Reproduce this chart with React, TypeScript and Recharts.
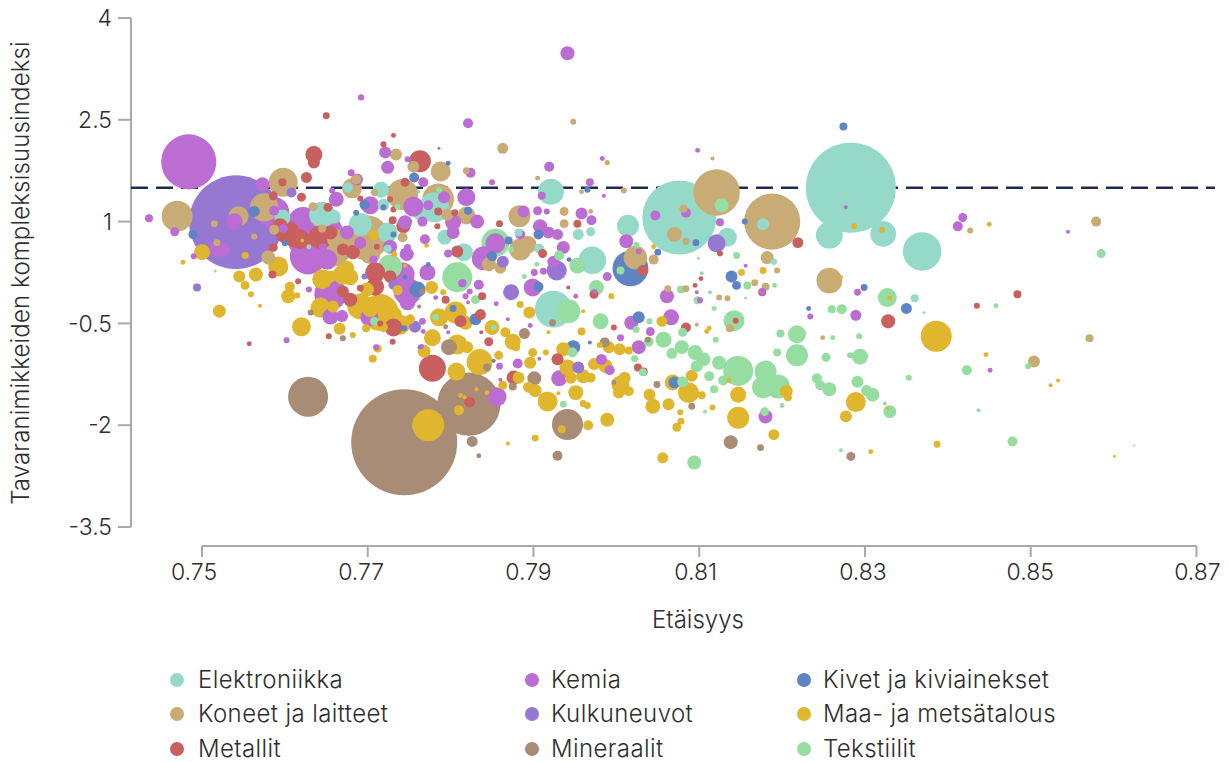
import * as React from "react";
import { ScatterChart, Scatter, Cell, XAxis, YAxis, ZAxis, ReferenceLine } from "recharts";

// each point: [distance, complexity index, trade value]
type Pt = [number, number, number];

const elektroniikka: Pt[] = [
  [0.8283,1.50,2025],[0.8076,1.06,1370],[0.8369,0.56,370],[0.8257,0.80,180],[0.8322,0.82,165],[0.8134,0.77,90],[0.7921,1.44,170],[0.8014,0.94,120],
  [0.7971,0.43,190],[0.7924,-0.29,340],[0.7954,0.81,30],[0.7969,0.85,20],[0.7780,1.21,225],[0.7793,0.77,55],[0.7816,0.55,80],[0.7907,0.60,25],[0.7882,0.84,16],
  [0.7676,1.50,25],[0.7716,1.47,64],[0.7719,1.25,36],[0.7645,1.10,170],[0.7659,1.07,49],[0.7597,1.06,64],[0.7691,0.96,130],[0.7766,1.15,100],[0.7724,0.84,100],[0.7724,0.60,16],
  [0.8190,0.41,10],[0.8177,0.96,36],[0.8360,-0.13,16],
];
const koneet: Pt[] = [
  [0.8188,1.00,790],[0.8121,1.43,540],[0.7470,1.08,240],[0.7598,1.58,210],[0.7575,1.21,200],[0.8257,0.13,165],[0.7742,1.40,240],[0.7681,1.49,100],
  [0.7755,1.81,36],[0.7734,1.99,36],[0.7699,0.77,480],[0.7697,0.92,140],[0.7695,0.63,170],[0.7661,0.55,200],[0.7663,0.74,100],[0.7580,0.47,50],[0.7544,1.08,100],
  [0.7587,0.88,25],[0.7515,0.97,12],[0.7518,0.69,12],[0.7563,0.78,9],[0.7634,1.22,20],[0.7645,0.90,16],[0.7788,1.74,100],[0.7785,1.33,250],[0.7819,1.09,80],[0.7796,1.10,36],
  [0.7863,2.08,30],[0.7948,2.47,9],[0.7819,1.75,12],[0.7883,1.08,120],[0.7884,0.59,120],[0.7893,0.66,80],[0.7846,0.37,50],[0.7860,0.32,36],[0.7937,1.15,20],[0.7937,0.97,20],
  [0.7905,1.64,6],[0.7958,1.44,6],[0.7989,1.87,7],[0.8009,1.46,9],[0.8116,1.93,4],[0.7969,1.15,6],[0.8070,0.81,55],[0.8084,0.71,12],[0.8081,1.19,16],[0.8023,0.47,140],[0.8045,0.44,25],
  [0.8062,0.01,12],[0.8084,0.01,12],[0.8182,0.47,42],[0.8194,0.28,9],[0.8167,0.10,12],[0.8180,0.04,16],[0.8124,-0.12,9],[0.8134,-0.13,9],[0.8427,0.87,9],
  [0.8249,-0.71,6],[0.8137,-0.57,16],[0.8097,-0.52,4],[0.8579,1.00,25],[0.8504,-1.06,36],[0.8571,-0.72,16],[0.7703,0.52,100],[0.7742,0.77,25],[0.7686,1.62,25],[0.7708,1.43,12],
];
const metallit: Pt[] = [
  [0.7763,1.89,120],[0.7635,1.99,72],[0.7635,1.87,36],[0.7626,1.65,30],[0.7620,1.36,20],[0.7650,2.56,12],[0.7731,2.27,6],[0.7719,2.14,9],[0.7597,1.58,16],[0.7586,1.38,20],[0.7652,1.21,20],
  [0.7745,1.58,20],[0.7727,1.33,9],[0.7731,1.18,9],[0.7730,1.02,16],[0.7743,0.93,50],[0.7691,1.34,9],[0.7603,0.84,140],[0.7594,0.93,64],[0.7610,0.74,64],[0.7618,0.74,100],[0.7643,0.77,140],[0.7631,0.74,30],[0.7655,0.84,50],
  [0.7670,0.59,36],[0.7682,0.55,50],[0.7586,0.62,20],[0.7585,0.22,16],[0.7709,0.27,80],[0.7727,0.19,25],[0.7711,0.63,9],[0.7709,0.25,100],[0.7709,0.04,81],[0.7727,0.19,40],[0.7679,-0.15,49],[0.7670,-0.03,36],
  [0.7691,0.02,12],[0.7731,-0.56,80],[0.7616,0.12,9],[0.7557,-0.80,6],[0.7653,-0.69,9],[0.7730,-0.77,9],[0.7715,-0.50,9],[0.7794,-0.15,16],[0.7812,-0.47,36],[0.7778,-1.16,182],[0.7823,-1.66,30],
  [0.7785,1.15,16],[0.7805,1.13,12],[0.7784,0.93,9],[0.7859,0.97,12],[0.7808,0.56,36],[0.7953,0.97,16],[0.7911,0.53,20],[0.8032,0.28,30],[0.7973,-0.07,20],[0.7942,0.03,4],[0.8095,0.06,6],[0.8102,0.16,6],[0.7838,-0.10,16],
  [0.7837,-0.63,4],[0.7836,-0.37,30],[0.7846,-0.77,20],[0.7929,-1.03,36],[0.7876,-1.30,50],[0.7997,-0.56,9],[0.8026,-1.15,16],[0.8033,-1.21,16],[0.8084,-0.56,25],
  [0.8219,0.69,30],[0.8125,0.53,9],[0.8176,-0.04,16],[0.8328,-0.47,50],[0.8435,-0.24,9],[0.8484,-0.07,16],[0.8144,-0.46,9],
];
const kemia: Pt[] = [
  [0.7484,1.88,760],[0.7941,3.48,50],[0.7692,2.83,10],[0.7821,2.45,25],[0.7436,1.05,16],[0.7467,0.85,20],[0.7573,1.55,50],[0.7721,2.02,36],[0.7724,1.80,42],[0.7680,1.72,12],[0.7687,1.62,36],
  [0.7748,1.92,9],[0.7767,1.58,25],[0.7657,1.46,9],[0.7662,1.33,56],[0.7703,1.24,80],[0.7773,1.24,25],[0.7539,1.00,70],[0.7518,0.60,64],[0.7525,0.59,49],[0.7586,1.13,260],[0.7637,0.78,800],[0.7622,0.99,230],
  [0.7587,1.16,25],[0.7598,0.90,20],[0.7490,0.49,9],[0.7675,0.84,49],[0.7691,0.69,36],[0.7747,0.52,49],[0.7727,0.63,50],[0.7769,0.74,25],[0.7745,0.99,49],[0.7766,1.00,25],[0.7755,1.22,100],
  [0.7707,0.44,16],[0.7646,0.62,16],[0.7748,0.62,12],[0.7651,0.44,100],[0.7629,0.00,9],[0.7602,-0.75,9],[0.7655,-0.07,260],[0.7628,0.49,330],[0.7655,-0.40,64],[0.7669,-0.39,36],[0.7702,-0.41,81],
  [0.7748,-0.03,190],[0.7748,-0.19,64],[0.7742,0.22,144],[0.7772,0.25,64],[0.7766,-0.47,12],[0.7767,-0.62,6],[0.7710,-0.85,9],[0.7797,-0.63,4],[0.7782,-0.12,6],[0.7818,-0.10,9],[0.7823,-0.03,9],[0.7821,-0.19,4],[0.7834,0.07,25],[0.7815,0.10,12],
  [0.7819,1.36,80],[0.7824,1.72,25],[0.7919,1.81,25],[0.7850,1.58,9],[0.7968,1.58,16],[0.7983,1.93,6],[0.7985,1.38,4],[0.8098,2.05,6],[0.7910,1.38,16],[0.8047,1.09,25],[0.8084,1.13,25],
  [0.7905,1.16,20],[0.7916,1.15,9],[0.7888,1.15,36],[0.7958,1.12,36],[0.7970,1.02,25],[0.7908,0.93,50],[0.7918,0.84,36],[0.7929,0.81,30],[0.7884,0.81,25],[0.7936,0.62,42],[0.8012,0.71,49],[0.8027,0.56,9],
  [0.7832,1.00,49],[0.7803,0.99,64],[0.7803,0.84,42],[0.7854,0.68,100],[0.7840,0.46,144],[0.7797,0.53,16],[0.7792,1.36,36],[0.7924,0.41,36],[0.7901,0.25,12],[0.7912,0.27,12],[0.7989,0.19,20],[0.7814,0.09,16],
  [0.7899,0.03,81],[0.7974,-0.03,6],[0.7951,-0.10,6],[0.8061,-0.10,49],[0.8097,-0.04,4],[0.8101,-0.16,9],[0.7982,-1.03,30],[0.7992,-1.19,25],[0.7931,-1.31,64],[0.8027,-0.85,49],[0.8041,-0.62,20],[0.8066,-0.41,64],
  [0.8018,-0.49,49],[0.7881,-1.09,25],[0.7856,-1.58,90],[0.7859,-1.13,12],[0.7907,-1.02,4],[0.7896,-0.53,6],[0.7869,-0.44,4],[0.7855,-0.21,6],[0.7765,-0.84,6],[0.7860,-1.33,4],[0.8005,-0.71,12],
  [0.8125,0.99,16],[0.8156,0.35,4],[0.8176,-0.03,12],[0.8418,1.06,20],[0.8412,0.93,25],[0.8291,-0.04,12],[0.8277,1.21,4],[0.8234,-0.40,9],[0.8289,-0.38,30],[0.8180,-1.87,49],[0.8451,-1.19,6],[0.8545,0.85,4],
];
const kulkuneuvot: Pt[] = [
  [0.7541,0.99,2200],[0.8121,0.68,80],[0.7928,0.28,100],[0.7608,1.43,25],[0.7863,0.41,36],[0.7873,-0.04,64],[0.7494,0.03,16],[0.7757,-0.55,36],[0.7763,-0.85,6],[0.7696,0.19,9],[0.7731,0.07,25],[0.7954,-1.15,36],
];
const mineraalit: Pt[] = [
  [0.7744,-2.25,2810],[0.7822,-1.69,1000],[0.7628,-1.58,400],[0.7941,-1.99,240],[0.7826,-2.24,30],[0.7834,-2.45,6],[0.7929,-2.45,25],[0.7901,-1.31,49],[0.7889,-0.65,30],[0.7798,-0.85,64],[0.7844,-1.15,16],[0.7875,-1.43,16],
  [0.7986,-0.78,25],[0.8049,-1.40,12],[0.7997,-1.37,6],[0.8091,-1.72,12],[0.8038,-0.74,9],[0.7670,-0.72,9],[0.7631,-0.34,9],[0.7794,-0.55,6],[0.7762,-0.25,4],[0.7766,-0.03,9],[0.8138,-2.25,49],[0.8174,-2.33,12],[0.8283,-2.46,20],[0.7923,-0.49,12],
];
const kivet: Pt[] = [
  [0.8017,0.31,320],[0.8274,2.40,16],[0.7563,1.15,30],[0.7489,0.81,20],[0.7600,0.68,9],[0.7696,1.25,25],[0.7686,1.13,9],[0.7756,1.65,25],[0.7719,1.21,9],[0.7731,0.81,9],[0.7745,0.18,6],[0.7760,0.00,64],[0.7773,0.37,6],
  [0.7803,-0.28,12],[0.7830,-0.44,36],[0.7744,-0.57,9],[0.7821,1.16,16],[0.7797,1.86,6],[0.7786,2.08,2],[0.7850,0.49,25],[0.7870,0.72,16],[0.7906,0.81,25],[0.7943,0.44,6],[0.7906,0.04,25],[0.7965,1.47,9],[0.8096,0.69,12],[0.8050,0.55,12],
  [0.8027,-0.41,36],[0.7968,-0.78,4],[0.7948,-0.85,49],[0.8070,-1.37,36],[0.7852,-1.05,4],[0.8139,0.19,36],[0.8145,0.06,20],[0.8155,1.00,9],[0.8299,0.03,12],[0.8350,-0.28,30],[0.8232,-0.28,6],
];
const maa: Pt[] = [
  [0.8386,-0.69,240],[0.7773,-2.00,256],[0.7620,-0.55,90],[0.7521,-0.32,42],[0.7666,-0.58,36],[0.7682,-0.67,9],[0.7706,-1.02,16],[0.7570,-0.24,4],[0.7559,-0.07,9],[0.7545,0.19,36],[0.7552,0.06,20],[0.7565,0.22,49],[0.7552,0.50,12],[0.7477,0.40,6],[0.7500,0.55,64],
  [0.7594,0.32,64],[0.7604,-0.10,49],[0.7606,0.04,25],[0.7615,-0.09,9],[0.7592,0.34,100],[0.7621,0.72,4],[0.7707,0.80,25],[0.7675,0.32,49],[0.7675,0.19,49],[0.7643,0.19,25],[0.7655,0.19,36],[0.7732,0.52,9],[0.7771,0.65,6],[0.7745,0.35,4],
  [0.7645,0.15,100],[0.7670,0.22,100],[0.7679,0.18,64],[0.7643,-0.22,49],[0.7643,-0.27,100],[0.7658,-0.25,36],[0.7691,-0.25,169],[0.7715,-0.34,340],[0.7727,-0.40,144],[0.7703,-0.29,64],[0.7699,0.00,49],[0.7739,-0.52,100],[0.7751,-0.44,25],[0.7736,-0.01,25],[0.7777,0.03,42],[0.7786,-0.41,81],[0.7806,-0.34,121],[0.7818,-0.49,49],
  [0.7778,-0.71,72],[0.7768,-0.91,42],[0.7808,-0.81,100],[0.7820,-0.85,36],[0.7791,-0.04,9],[0.7698,-0.57,16],[0.7719,-0.56,20],[0.7807,-1.21,81],[0.7835,-1.07,169],[0.7712,-0.87,16],[0.7810,-1.78,25],[0.7812,-1.56,6],[0.7817,-1.59,4],[0.7831,-1.47,4],
  [0.7858,-0.97,20],[0.7863,-1.41,20],[0.7844,-1.52,6],[0.7850,-0.56,56],[0.7866,-0.63,25],[0.7875,-0.77,64],[0.7879,-0.85,16],[0.7884,-0.22,12],[0.7895,-0.34,36],[0.7896,-1.08,36],[0.7899,-0.93,20],[0.7915,-0.93,9],
  [0.7936,-0.88,49],[0.7941,-1.15,64],[0.7945,-1.30,36],[0.7951,-1.52,56],[0.7960,-1.28,49],[0.7969,-1.30,25],[0.7917,-1.65,100],[0.7894,-1.44,30],[0.7902,-1.49,42],[0.7882,-1.30,36],[0.7930,-1.53,4],[0.7934,-2.06,16],[0.7902,-2.19,12],[0.7869,-2.27,4],
  [0.7966,-2.00,25],[0.7989,-1.92,49],[0.8056,-2.48,30],[0.7960,-1.68,12],[0.7965,-1.71,12],[0.7973,-1.10,36],[0.7987,-1.13,49],[0.8005,-1.40,81],[0.8010,-1.30,36],[0.8003,-1.52,36],[0.8015,-1.50,25],[0.7991,-0.85,36],[0.8004,-0.88,36],[0.8015,-0.90,16],
  [0.7980,-0.82,9],[0.7960,-0.32,4],[0.7958,-0.62,16],[0.7918,-0.63,4],[0.7994,-0.10,9],[0.8040,-1.55,36],[0.8044,-1.72,56],[0.8063,-1.69,36],[0.8077,-1.81,9],[0.8078,-1.94,12],[0.8073,-2.03,20],[0.8103,-1.56,16],[0.8087,-1.52,110],[0.8091,-1.27,36],[0.8068,-1.37,64],
  [0.8116,-1.74,9],[0.8055,-0.47,30],[0.8109,-0.62,6],[0.8112,-0.57,6],[0.8151,0.25,12],[0.8177,0.28,12],[0.8330,-0.13,6],[0.8271,0.18,4],[0.8450,0.96,6],[0.8287,0.93,9],[0.8321,0.88,9],[0.8045,0.63,6],
  [0.8147,-1.55,64],[0.8147,-1.89,121],[0.8190,-2.14,30],[0.8205,-1.50,42],[0.8207,-1.59,16],[0.8289,-1.66,100],[0.8277,-1.87,36],[0.8328,-1.75,2],[0.8307,-2.39,6],[0.8387,-2.28,12],[0.8446,-0.96,6],[0.8136,-1.34,6],[0.8524,-1.41,4],[0.8533,-1.34,4],[0.8601,-2.46,2],
];
const tekstiilit: Pt[] = [
  [0.7808,0.18,225],[0.7953,0.35,64],[0.7942,-0.32,144],[0.7854,0.69,196],[0.7786,1.47,9],[0.8127,1.24,49],[0.8005,0.28,16],[0.7931,0.50,25],[0.7889,0.19,6],[0.7904,0.37,6],[0.7873,0.59,9],[0.7976,0.03,56],[0.8078,0.00,16],[0.8113,-0.04,4],[0.8103,0.24,4],[0.8099,0.46,2],[0.8024,0.66,9],
  [0.7516,0.27,2],[0.7629,0.63,6],[0.7736,1.22,9],[0.7761,1.44,4],[0.7727,0.34,144],[0.7830,-0.15,20],[0.7708,-0.47,20],[0.7782,-0.41,12],[0.7981,-0.47,64],[0.7947,-0.93,25],[0.7936,-1.69,12],[0.8022,-1.02,12],[0.8024,-0.59,12],[0.8040,-0.47,9],[0.8032,-1.22,16],[0.7852,-0.56,9],
  [0.8080,-0.63,20],[0.8057,-0.74,64],[0.8039,-0.77,25],[0.8120,-0.74,9],[0.8079,-0.85,49],[0.8067,-0.94,30],[0.8095,-0.93,56],[0.8105,-1.03,49],[0.8097,-1.13,36],[0.8124,-1.08,49],[0.8112,-1.28,25],[0.8118,-1.47,16],[0.8080,-1.36,30],[0.8107,-1.80,4],[0.8094,-2.55,49],[0.8118,-0.28,6],
  [0.8142,-0.46,110],[0.8145,0.50,12],[0.8158,0.06,16],[0.8191,0.06,6],[0.8098,-0.16,16],[0.8156,-0.13,2],[0.8260,-0.29,16],[0.8272,-0.29,25],[0.8327,-0.12,90],[0.8371,-0.34,2],[0.8218,-0.66,81],[0.8218,-0.97,121],[0.8198,-0.65,16],[0.8194,-0.93,16],[0.8253,-1.00,20],[0.8261,-0.71,6],
  [0.8293,-0.69,9],[0.8282,-0.97,9],[0.8294,-0.99,64],[0.8242,-1.31,25],[0.8246,-1.41,25],[0.8257,-1.47,49],[0.8291,-1.36,36],[0.8302,-1.49,30],[0.8309,-1.55,49],[0.8324,-1.68,4],[0.8330,-1.80,42],[0.8353,-1.30,9],[0.8423,-1.19,25],[0.8437,-1.78,4],[0.8271,-2.37,4],[0.8200,-1.71,6],[0.8179,-1.80,20],
  [0.8147,-1.20,225],[0.8129,-1.34,25],[0.8180,-1.21,121],[0.8177,-1.44,121],[0.8195,-1.43,144],[0.8585,0.53,20],[0.8478,-2.24,25],[0.8497,-1.13,9],[0.8458,-0.24,6],[0.8625,-2.30,1],
];

const categories = ["Elektroniikka", "Koneet ja laitteet", "Metallit", "Kemia", "Kulkuneuvot", "Mineraalit", "Kivet ja kiviainekset", "Maa- ja metsätalous", "Tekstiilit"];
const seriesData = [elektroniikka, koneet, metallit, kemia, kulkuneuvot, mineraalit, kivet, maa, tekstiilit];
const colors = ["#95d9c9", "#c9ab75", "#c7605f", "#bb6dd3", "#9678d3", "#a98c75", "#5f84c4", "#e0b62f", "#95dda0"];

const xTicks = [0.75, 0.77, 0.79, 0.81, 0.83, 0.85, 0.87];
const yTicks = [-3.5, -2, -0.5, 1, 2.5, 4];
const referenceValue = 1.5;

// biggest bubbles first so small ones stay visible on top
const table = seriesData
  .flatMap((rows, i) => rows.map(([x, y, z]) => ({ x, y, z, category: categories[i], color: colors[i] })))
  .sort((a, b) => b.z - a.z);

const FONT = "Inter, sans-serif";
const INK = "#2e2e2e";
const AXIS = "#a9a9a9";
const X_MIN = 0.74143;
const X_MAX = 0.87224;
const Y_MIN = -3.78;

// legend rows run down the columns: 3 rows per column
const legendDots = [177, 532, 804];
const legendText = [198, 551, 823];
const legendRows = [680, 714, 749];

// the labels sit a bit left of their ticks at the start of the axis
function XTick({ x, y, payload, index }: any) {
  return (
    <text x={x - 8 + index * 1.5} y={y + 16} textAnchor="middle" fill={INK} fontSize={23} fontWeight={300} fontFamily={FONT}>
      {payload.value.toFixed(2)}
    </text>
  );
}

export default function App() {
  return (
    <div style={{ position: "absolute", left: 0, top: 0, width: 1230, height: 762, background: "#fff", fontFamily: FONT, overflow: "hidden" }}>
      <ScatterChart width={1230} height={660} margin={{ top: 18, right: 15, bottom: 0, left: 0 }}>
        <XAxis
          type="number"
          dataKey="x"
          domain={[X_MIN, X_MAX]}
          ticks={xTicks}
          interval={0}
          height={114}
          axisLine={false}
          tickSize={11}
          tickMargin={7}
          tickLine={{ stroke: AXIS, strokeWidth: 2 }}
          tick={<XTick />}
          label={{ value: "Etäisyys", position: "insideTop", dx: 25, dy: 60, fill: INK, fontSize: 24, fontWeight: 300, fontFamily: FONT }}
        />
        <YAxis
          type="number"
          dataKey="y"
          domain={[Y_MIN, 4]}
          ticks={yTicks}
          interval={0}
          width={131}
          axisLine={false}
          tickSize={13}
          tickMargin={6}
          tickLine={{ stroke: AXIS, strokeWidth: 2 }}
          tick={{ fill: INK, fontSize: 23, fontWeight: 300, fontFamily: FONT }}
          label={{ value: "Tavaranimikkeiden kompleksisuusindeksi", angle: -90, position: "insideLeft", dx: 15, dy: -9, fill: INK, fontSize: 24, fontWeight: 300, fontFamily: FONT, letterSpacing: 0.15, style: { textAnchor: "middle" } }}
        />
        <ZAxis type="number" dataKey="z" domain={[0, 3000]} range={[0, 3000 * Math.PI]} />
        <ReferenceLine segment={[{ x: X_MIN, y: -3.5 }, { x: X_MIN, y: 4 }]} stroke={AXIS} strokeWidth={2} ifOverflow="visible" />
        <ReferenceLine segment={[{ x: 0.75, y: Y_MIN }, { x: 0.87, y: Y_MIN }]} stroke={AXIS} strokeWidth={2} ifOverflow="visible" />
        <ReferenceLine y={referenceValue} stroke="#1f2a55" strokeWidth={2.5} strokeDasharray="17 8" />
        <Scatter data={table} isAnimationActive={false}>
          {table.map((d, i) => (
            <Cell key={i} fill={d.color} />
          ))}
        </Scatter>
      </ScatterChart>
      {categories.map((name, i) => {
        const col = Math.floor(i / 3);
        const cy = legendRows[i % 3];
        return (
          <React.Fragment key={name}>
            <span style={{ position: "absolute", left: legendDots[col] - 7, top: cy - 7, width: 14, height: 14, borderRadius: 7, background: colors[i] }} />
            <div style={{ position: "absolute", left: legendText[col], top: cy - 12, height: 24, lineHeight: "24px", fontSize: 24, letterSpacing: 0.4, fontWeight: 300, color: INK, whiteSpace: "nowrap" }}>
              {name}
            </div>
          </React.Fragment>
        );
      })}
    </div>
  );
}
